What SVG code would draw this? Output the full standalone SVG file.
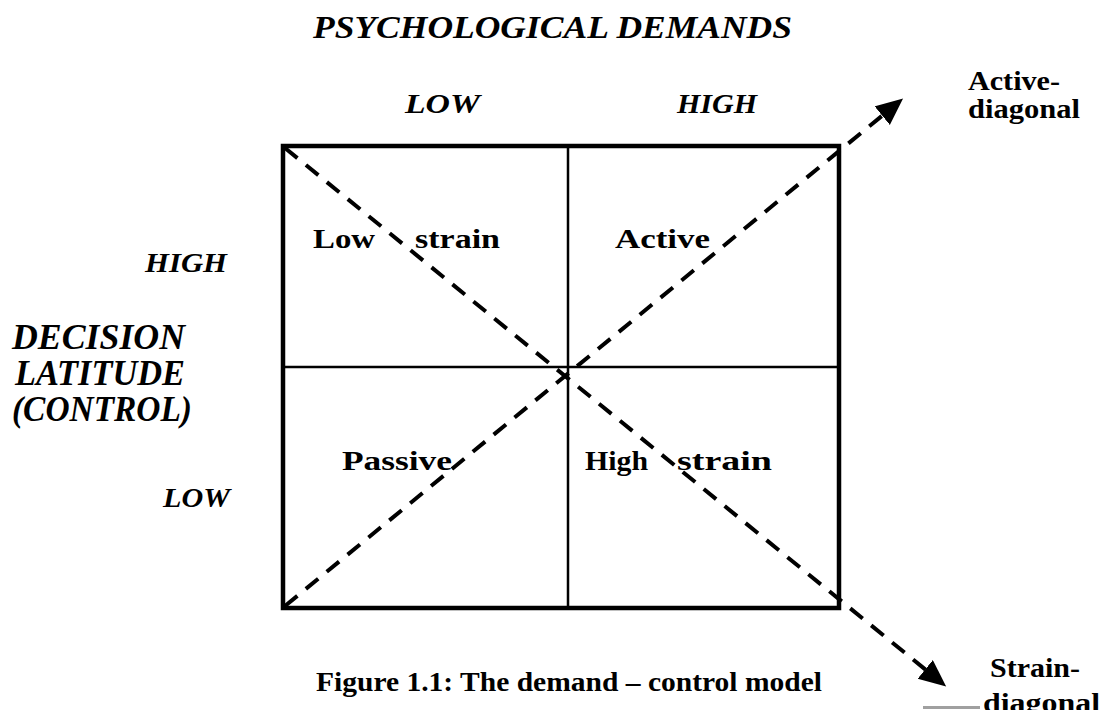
<svg xmlns="http://www.w3.org/2000/svg" width="1106" height="710" viewBox="0 0 1106 710">
  <style>
    .axis { font-family: "Liberation Serif", "Times New Roman", serif; font-weight: bold; font-style: italic; fill: #000; }
    .lbl { font-family: "Liberation Serif", "Times New Roman", serif; font-weight: bold; fill: #000; }
    .frame { fill: none; stroke: #000; stroke-width: 4.5; }
    .divider { stroke: #000; stroke-width: 2.5; }
    .diag { fill: none; stroke: #000; stroke-width: 4; stroke-dasharray: 16 11; }
  </style>
  <defs>
    <marker id="head" markerUnits="userSpaceOnUse" markerWidth="28" markerHeight="26" refX="1" refY="12" orient="auto">
      <path d="M0,0 L27,12 L0,24 Z" fill="#000"/>
    </marker>
  </defs>
  <rect width="1106" height="710" fill="#fff"/>

  <!-- horizontal axis: demands -->
  <g id="axis-demands">
    <text class="axis" x="313" y="38" font-size="32" textLength="479" lengthAdjust="spacingAndGlyphs">PSYCHOLOGICAL DEMANDS</text>
    <text class="axis" x="405" y="113" font-size="27" textLength="75" lengthAdjust="spacingAndGlyphs">LOW</text>
    <text class="axis" x="677" y="113" font-size="27" textLength="80" lengthAdjust="spacingAndGlyphs">HIGH</text>
  </g>
  <!-- vertical axis: control -->
  <g id="axis-control">
    <text class="axis" x="145" y="272" font-size="27" textLength="82" lengthAdjust="spacingAndGlyphs">HIGH</text>
    <text class="axis" x="12" y="349" font-size="35" textLength="173" lengthAdjust="spacingAndGlyphs">DECISION</text>
    <text class="axis" x="15" y="385" font-size="35" textLength="170" lengthAdjust="spacingAndGlyphs">LATITUDE</text>
    <text class="axis" x="12" y="421" font-size="35" textLength="180" lengthAdjust="spacingAndGlyphs">(CONTROL)</text>
    <text class="axis" x="163" y="507" font-size="27" textLength="67" lengthAdjust="spacingAndGlyphs">LOW</text>
  </g>

  <!-- 2x2 grid -->
  <g id="grid">
    <rect class="frame" x="283" y="146" width="556" height="462"/>
    <line class="divider" x1="568" y1="146" x2="568" y2="608"/>
    <line class="divider" x1="283" y1="367" x2="839" y2="367"/>
  </g>

  <!-- quadrant labels -->
  <g id="q-low-strain">
    <text class="lbl" y="248" font-size="28"><tspan x="313" textLength="62" lengthAdjust="spacingAndGlyphs">Low</tspan> <tspan x="415" textLength="85" lengthAdjust="spacingAndGlyphs">strain</tspan></text>
  </g>
  <g id="q-active">
    <text class="lbl" x="615" y="248" font-size="28" textLength="95" lengthAdjust="spacingAndGlyphs">Active</text>
  </g>
  <g id="q-passive">
    <text class="lbl" x="342" y="470" font-size="28" textLength="110" lengthAdjust="spacingAndGlyphs">Passive</text>
  </g>
  <g id="q-high-strain">
    <text class="lbl" y="470" font-size="28"><tspan x="585" textLength="63" lengthAdjust="spacingAndGlyphs">High</tspan> <tspan x="677" textLength="95" lengthAdjust="spacingAndGlyphs">strain</tspan></text>
  </g>

  <!-- dashed diagonals with arrowheads -->
  <g id="connectors">
    <line class="diag" x1="285" y1="148" x2="926" y2="670" marker-end="url(#head)"/>
    <line class="diag" x1="285" y1="606" x2="883" y2="115" marker-end="url(#head)"/>
  </g>

  <g id="label-active-diagonal">
    <text class="lbl" x="968" y="90" font-size="28" textLength="92" lengthAdjust="spacingAndGlyphs">Active-</text>
    <text class="lbl" x="968" y="118" font-size="28" textLength="112" lengthAdjust="spacingAndGlyphs">diagonal</text>
  </g>
  <g id="label-strain-diagonal">
    <text class="lbl" x="990" y="677" font-size="28" textLength="90" lengthAdjust="spacingAndGlyphs">Strain-</text>
    <text class="lbl" x="983" y="712" font-size="28" textLength="117" lengthAdjust="spacingAndGlyphs">diagonal</text>
    <rect x="923" y="706" width="57" height="3" fill="#a0a0a0"/>
  </g>

  <g id="caption">
    <text class="lbl" x="316" y="691" font-size="28" textLength="506" lengthAdjust="spacingAndGlyphs">Figure 1.1: The demand – control model</text>
  </g>
</svg>
